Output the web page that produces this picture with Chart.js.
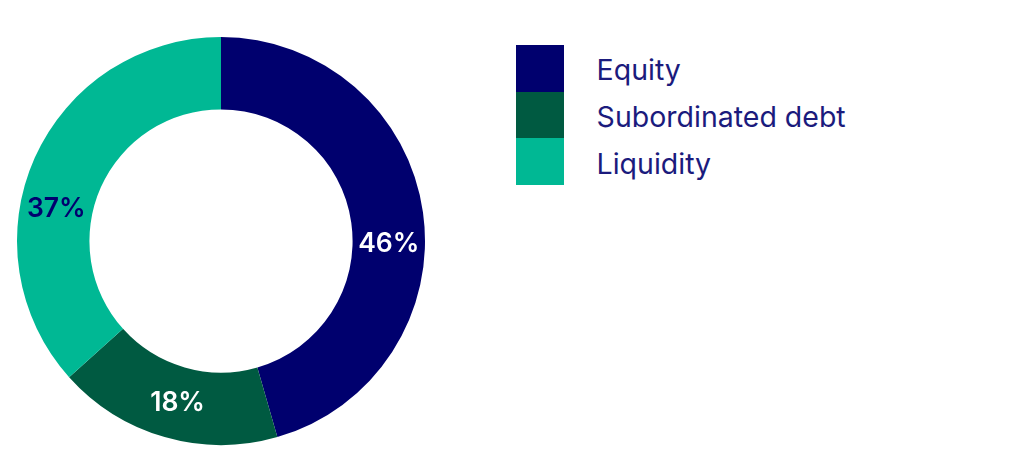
<!DOCTYPE html>
<html>
<head>
<meta charset="utf-8">
<script src="https://cdn.jsdelivr.net/npm/chart.js@4"></script>
<style>
  html, body { margin: 0; padding: 0; background: #fff; }
  #wrap { position: relative; width: 1032px; height: 471px; }
  #chartBox { position: absolute; left: 0; top: 0; width: 442px; height: 471px; }
  #legend { position: absolute; left: 516px; top: 45px; font-family: Inter, "Noto Sans", sans-serif; }
  .item { display: flex; align-items: center; height: 46.7px; }
  .swatch { width: 47.6px; height: 46.7px; }
  .label { margin-left: 33px; padding-top: 3px; font-size: 28.5px; color: #1b1b7d; }
</style>
</head>
<body>
<div id="wrap">
  <div id="chartBox"><canvas id="donut"></canvas></div>
  <div id="legend"></div>
</div>
<script>
const categories = ['Equity', 'Subordinated debt', 'Liquidity'];
const shares = [46, 18, 37];
const shareLabels = ['46%', '18%', '37%'];
const colors = ['#00006e', '#005a41', '#00b894'];
const labelColors = ['#ffffff', '#ffffff', '#00006e'];

// label angle (deg, clockwise from top) where the printed value sits
const labelAngles = [91, 195, 281];

const sliceLabels = {
  id: 'sliceLabels',
  afterDatasetsDraw(chart) {
    const ctx = chart.ctx;
    const meta = chart.getDatasetMeta(0);
    ctx.save();
    ctx.font = '600 26.5px Inter, "Noto Sans", sans-serif';
    ctx.textAlign = 'center';
    ctx.textBaseline = 'middle';
    meta.data.forEach((arc, i) => {
      const r = (arc.innerRadius + arc.outerRadius) / 2;
      const a = (labelAngles[i] - 90) * Math.PI / 180;
      ctx.fillStyle = labelColors[i];
      ctx.fillText(shareLabels[i], arc.x + Math.cos(a) * r, arc.y + Math.sin(a) * r);
    });
    ctx.restore();
  }
};

new Chart(document.getElementById('donut'), {
  type: 'doughnut',
  data: {
    labels: categories,
    datasets: [{
      data: shares,
      backgroundColor: colors,
      borderWidth: 0
    }]
  },
  options: {
    responsive: true,
    maintainAspectRatio: false,
    animation: false,
    cutout: '64.5%',
    layout: { padding: { left: 17, right: 17, top: 37, bottom: 26 } },
    plugins: {
      legend: { display: false },
      tooltip: { enabled: false }
    }
  },
  plugins: [sliceLabels]
});

// LEGEND
document.getElementById('legend').innerHTML = categories.map((name, i) =>
  `<div class="item"><div class="swatch" style="background:${colors[i]}"></div><span class="label">${name}</span></div>`
).join('');
</script>
</body>
</html>
